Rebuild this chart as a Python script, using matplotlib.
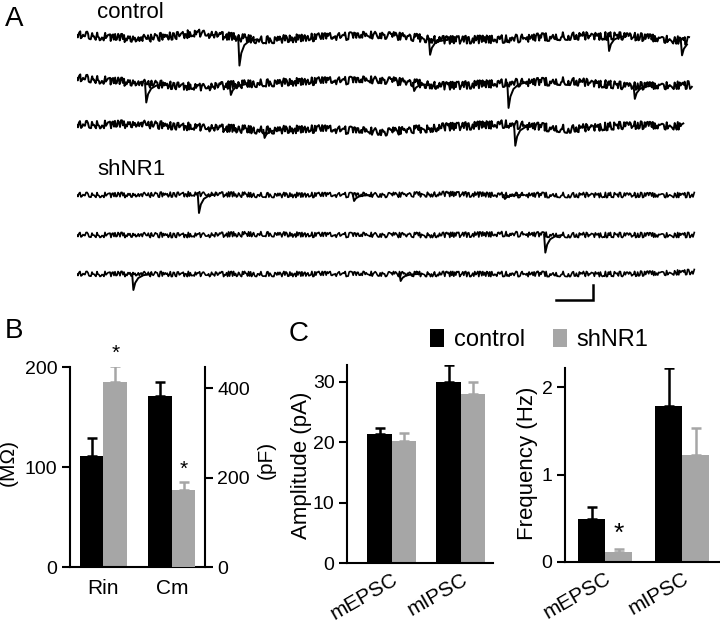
import numpy as np
import matplotlib
import matplotlib.pyplot as plt
from matplotlib.patches import Patch

matplotlib.use('Agg')

plt.rcParams['font.family'] = ['Liberation Sans', 'DejaVu Sans']
plt.rcParams['axes.linewidth'] = 1.5

BLACK = 'black'
GRAY = '#a6a6a6'

# ---- panel A: example sweeps (position along sweep 0-1000, depth of mini in px)
ctrl_events = [
    [(263, 28), (574, 16), (866, 15), (985, 15)],
    [(111, 19), (249, 10), (548, 8), (702, 25), (908, 13)],
    [(304, 8), (713, 21)],
]
sh_events = [
    [(197, 19), (450, 6), (696, 4)],
    [(762, 18)],
    [(90, 16), (526, 7)],
]
# slow baseline drift, read every 100 units along the sweep (px, up = positive)
ctrl_drift = [
    [3, -1, 5, -2, 1, 3, -2, -1, 2, 2, -3],
    [5, 0, -4, 0, 2, 3, -3, 0, 2, -3, -2],
    [2, 3, 0, -3, -2, -5, 0, 3, -2, 2, 1],
]
sh_drift = [
    [0, 0, 1, 0, 0, 0, 1, 0, 0, 0, 0],
    [0, 0, 0, 1, 0, 0, 0, 1, 0, 0, 0],
    [0, 0, 0, 0, 0, 0, 0, 0, 0, 0, 2],
]
ctrl_ends = [998, 1003, 989]
sh_ends = [1007, 1007, 1007]
drift_pos = [0, 100, 200, 300, 400, 500, 600, 700, 800, 900, 1000]

# shape of one miniature current (time offset, fraction of depth)
mini_t = [0, 2, 5, 10, 18, 30]
mini_f = [0, 1, 0.55, 0.25, 0.08, 0]

scale_ms = 59
scale_pA = 15

# ---- panel B: passive properties
rin = [111, 185]
rin_err = [18, 16]
cm = [382, 172]
cm_err = [31, 18]

# ---- panel C: minis
groups_c = ['mEPSC', 'mIPSC']
amp_ctrl = [21.4, 30.0]
amp_ctrl_err = [1.0, 2.8]
amp_sh = [20.2, 28.0]
amp_sh_err = [1.4, 2.0]
freq_ctrl = [0.49, 1.79]
freq_ctrl_err = [0.14, 0.43]
freq_sh = [0.11, 1.23]
freq_sh_err = [0.04, 0.30]

W, H = 720, 622
fig = plt.figure(figsize=(7.2, 6.22), dpi=100)


def fax(l, t, r, b):
    # axes from pixel box
    return fig.add_axes([l / W, 1 - b / H, (r - l) / W, (b - t) / H])


def draw_sweep(ax, events, drift, end, row, noise, lw):
    # noisy baseline (sketch filter gives the recording noise look)
    xs = np.array([x for x in drift_pos if x < end] + [end], float)
    ys = np.interp(xs, drift_pos, drift)
    ln, = ax.plot(xs, ys - row, color=BLACK, lw=lw)
    ln.set_sketch_params(noise, 1.0, 2.5)
    # the minis themselves, drawn clean on top
    for t0, d in events:
        ex = np.array([t0 + dt for dt in mini_t if t0 + dt <= end], float)
        ey = np.interp(ex, drift_pos, drift) - d * np.interp(ex - t0, mini_t, mini_f)
        ax.plot(ex, ey - row, color=BLACK, lw=1.4)


axA = fax(77, 0, 77 + 1010 * 0.613, 310)
axA.set_xlim(0, 1010)
axA.set_ylim(-310, 0)
axA.axis('off')
rows_ctrl = [38, 83, 127]
rows_sh = [195, 235, 274]
for i in range(3):
    draw_sweep(axA, ctrl_events[i], ctrl_drift[i], ctrl_ends[i], rows_ctrl[i], 4.0, 1.4)
    draw_sweep(axA, sh_events[i], sh_drift[i], sh_ends[i], rows_sh[i], 2.6, 1.2)
axA.plot([782, 782 + scale_ms, 782 + scale_ms], [-300, -300, -300 + scale_pA],
         color=BLACK, lw=1.8, solid_joinstyle='miter')

fig.text(5 / W, 1 - 19 / H, 'A', fontsize=20, va='center', ha='left')
fig.text(97 / W, 1 - 13 / H, 'control', fontsize=16, va='center', ha='left')
fig.text(97 / W, 1 - 170 / H, 'shNR1', fontsize=16, va='center', ha='left')
fig.text(5 / W, 1 - 331 / H, 'B', fontsize=20, va='center', ha='left')
fig.text(289 / W, 1 - 334 / H, 'C', fontsize=20, va='center', ha='left')


def style(ax):
    ax.spines['top'].set_visible(False)
    ax.spines['right'].set_visible(False)
    ax.tick_params(axis='y', direction='out', length=6, width=1.5,
                   labelsize=14, pad=3)
    ax.tick_params(axis='x', length=0, labelsize=15)


def errs(ax, x, vals, err, color):
    ax.errorbar(x, vals, yerr=[np.zeros(len(vals)), err], fmt='none',
                ecolor=color, elinewidth=1.8, capsize=3.8, capthick=1.8)


# ---- B
wB = 0.343
axB = fax(70, 367, 205, 567)
style(axB)
axB.set_xlim(-0.489, 1.482)
axB.set_ylim(0, 200)
axB.set_yticks([0, 100, 200])
axB.bar([-wB / 2], [rin[0]], wB, color=BLACK)
axB.bar([wB / 2], [rin[1]], wB, color=GRAY)
errs(axB, [-wB / 2], [rin[0]], [rin_err[0]], BLACK)
errs(axB, [wB / 2], [rin[1]], [rin_err[1]], GRAY)
axB.set_xticks([0, 1])
axB.set_xticklabels(['Rin', 'Cm'])
axB.tick_params(axis='x', pad=9)
axB.text(wB / 2, rin[1] + rin_err[1] + 3, '*', ha='center', va='bottom', fontsize=15)

axB2 = axB.twinx()
for s in ['top', 'left', 'bottom']:
    axB2.spines[s].set_visible(False)
axB2.set_ylim(0, 447)
axB2.set_yticks([0, 200, 400])
axB2.tick_params(axis='y', direction='out', length=6, width=1.5,
                 labelsize=14, pad=3)
axB2.bar([1 - wB / 2], [cm[0]], wB, color=BLACK)
axB2.bar([1 + wB / 2], [cm[1]], wB, color=GRAY)
errs(axB2, [1 - wB / 2], [cm[0]], [cm_err[0]], BLACK)
errs(axB2, [1 + wB / 2], [cm[1]], [cm_err[1]], GRAY)
axB2.text(1 + wB / 2, cm[1] + cm_err[1] + 6, '*', ha='center', va='bottom', fontsize=15)

fig.text(8 / W, 1 - 462 / H, '(M\u03a9)', rotation=90, fontsize=15,
         ha='center', va='center')
fig.text(266 / W, 1 - 460 / H, '(pF)', rotation=90, fontsize=15,
         ha='center', va='center')


# ---- C
def panel_c(ax, ctrl, ctrl_err, sh, sh_err, w):
    style(ax)
    x = np.arange(len(ctrl))
    ax.bar(x - w / 2, ctrl, w, color=BLACK)
    ax.bar(x + w / 2, sh, w, color=GRAY)
    errs(ax, x - w / 2, ctrl, ctrl_err, BLACK)
    errs(ax, x + w / 2, sh, sh_err, GRAY)
    ax.set_xticks(x)
    ax.set_xticklabels(groups_c, rotation=30, ha='right', va='top',
                       rotation_mode='anchor')
    ax.tick_params(axis='x', pad=5)
    return x


axC1 = fax(347, 365, 493, 563)
wC1 = 0.355
panel_c(axC1, amp_ctrl, amp_ctrl_err, amp_sh, amp_sh_err, wC1)
axC1.set_xlim(-0.652, 1.464)
axC1.set_ylim(0, 32.8)
axC1.set_yticks([0, 10, 20, 30])
fig.text(302 / W, 1 - 465 / H, 'Amplitude (pA)', rotation=90, fontsize=16,
         ha='center', va='center')

axC2 = fax(565, 368, 720, 562)
wC2 = 0.35
x2 = panel_c(axC2, freq_ctrl, freq_ctrl_err, freq_sh, freq_sh_err, wC2)
axC2.set_xlim(-0.519, 1.49)
axC2.set_ylim(0, 2.22)
axC2.set_yticks([0, 1, 2])
axC2.text(x2[0] + wC2 / 2, freq_sh[0] + freq_sh_err[0] + 0.03, '*',
          ha='center', va='bottom', fontsize=19)
fig.text(527 / W, 1 - 463 / H, 'Frequency (Hz)', rotation=90, fontsize=16,
         ha='center', va='center')

handles = [Patch(facecolor=BLACK, label='control'),
           Patch(facecolor=GRAY, label='shNR1')]
fig.legend(handles=handles, loc='center left', bbox_to_anchor=(430 / W, 1 - 340 / H),
           ncol=2, frameon=False, fontsize=17, handlelength=0.6, handleheight=0.8,
           handletextpad=0.4, columnspacing=1.2, borderpad=0, borderaxespad=0)

fig.savefig('out.png', dpi=100)
